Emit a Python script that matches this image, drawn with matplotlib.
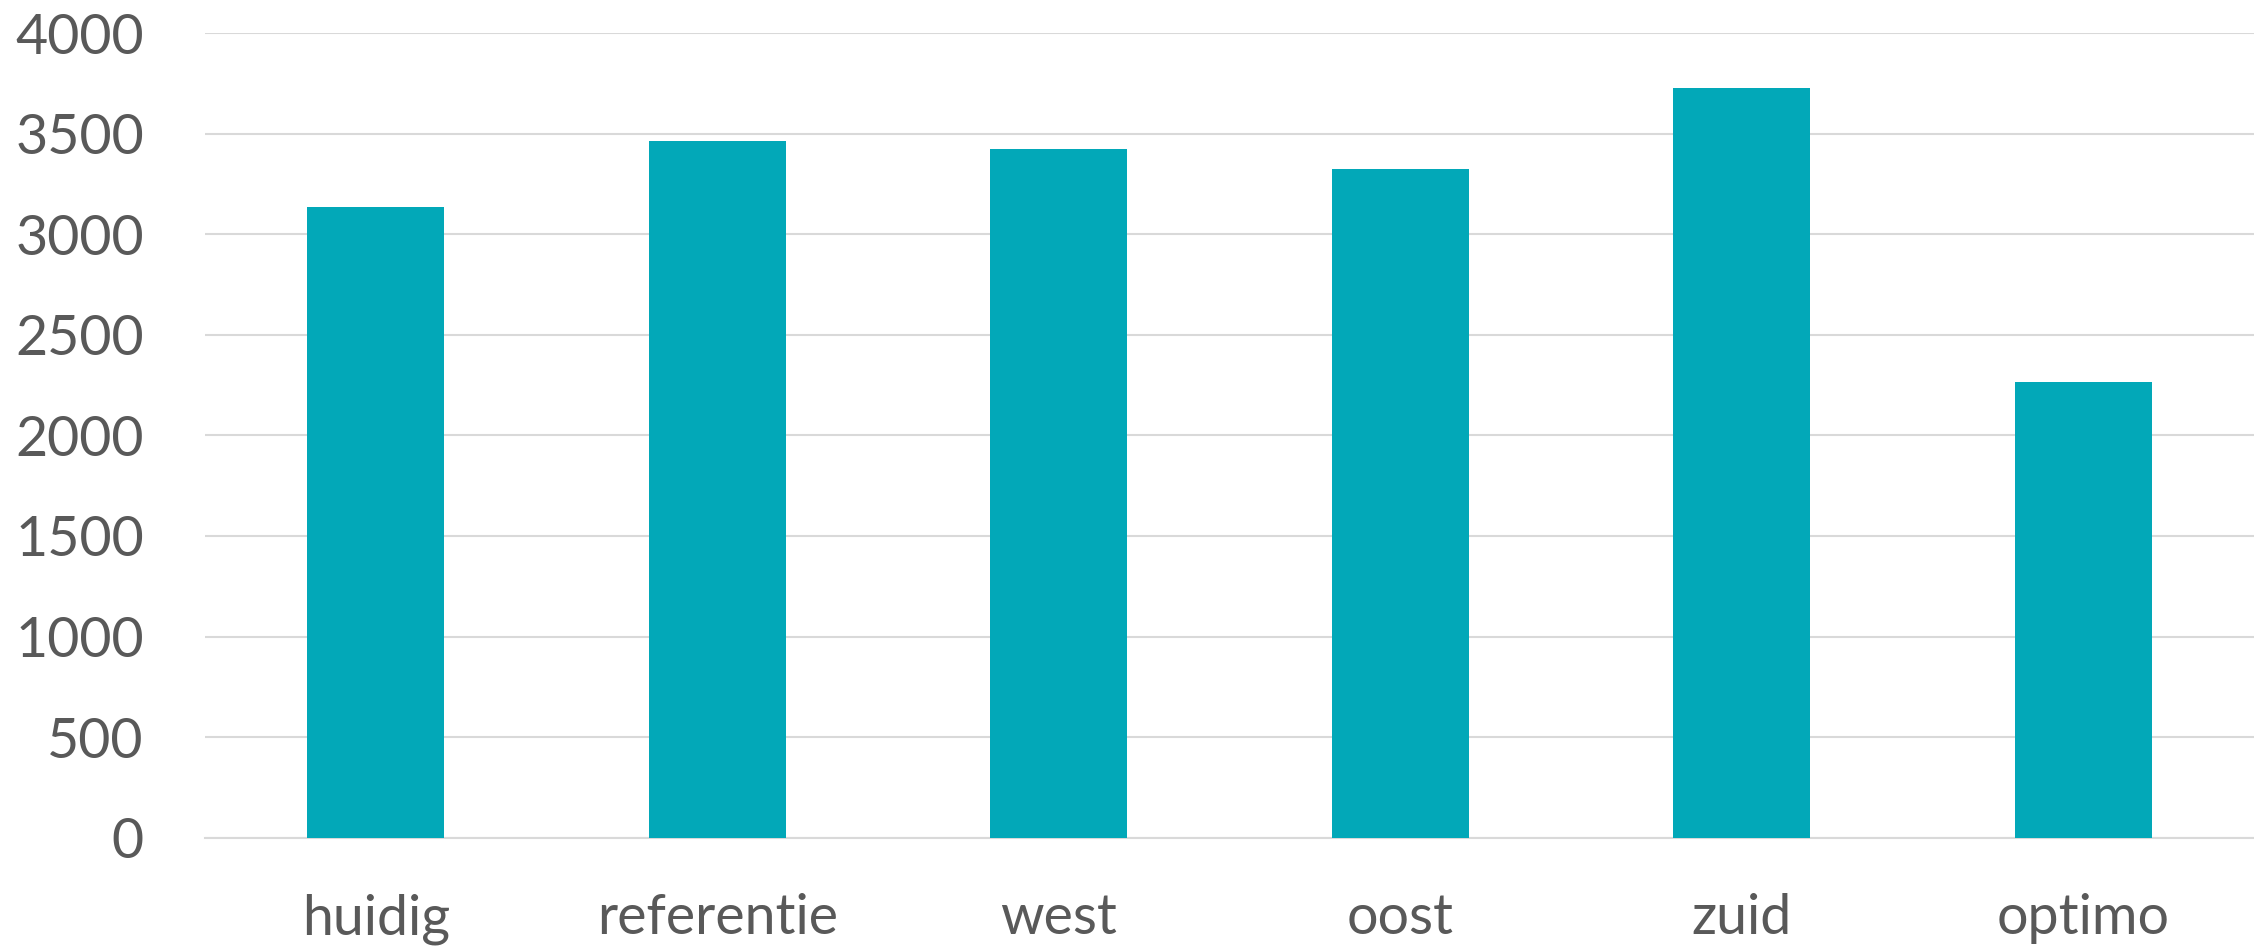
import matplotlib
matplotlib.use("Agg")
import matplotlib.pyplot as plt
import numpy as np

categories = ["huidig", "referentie", "west", "oost", "zuid", "optimo"]
values = [3133, 3465, 3425, 3326, 3729, 2263]
yticks = [0, 500, 1000, 1500, 2000, 2500, 3000, 3500, 4000]

bar_color = "#02A8B8"
text_color = "#595959"
grid_color = "#D9D9D9"

plt.rcParams["font.family"] = ["Lato", "DejaVu Sans"]

fig = plt.figure(figsize=(22.54, 9.52), dpi=100)
ax = fig.add_axes([205 / 2254, 1 - 837.7 / 952, 1 - 205 / 2254, (837.7 - 33) / 952])

x = np.arange(len(categories))
ax.bar(x, values, width=0.4, color=bar_color, zorder=3)

ax.set_xlim(-0.5, len(categories) - 0.5)
ax.set_ylim(0, 4000)
ax.set_yticks(yticks)
ax.set_yticklabels([str(t) for t in yticks])
ax.set_xticks(x)
ax.set_xticklabels(categories)

ax.yaxis.grid(True, color=grid_color, linewidth=1.5, zorder=0)
ax.set_axisbelow(True)
for side in ["top", "right", "left"]:
    ax.spines[side].set_visible(False)
ax.spines["bottom"].set_color(grid_color)
ax.spines["bottom"].set_linewidth(1.5)

ax.tick_params(axis="y", length=0, pad=44, labelsize=40, labelcolor=text_color)
ax.tick_params(axis="x", length=0, pad=40, labelsize=40, labelcolor=text_color)

fig.savefig("out.png", dpi=100, facecolor="white")
